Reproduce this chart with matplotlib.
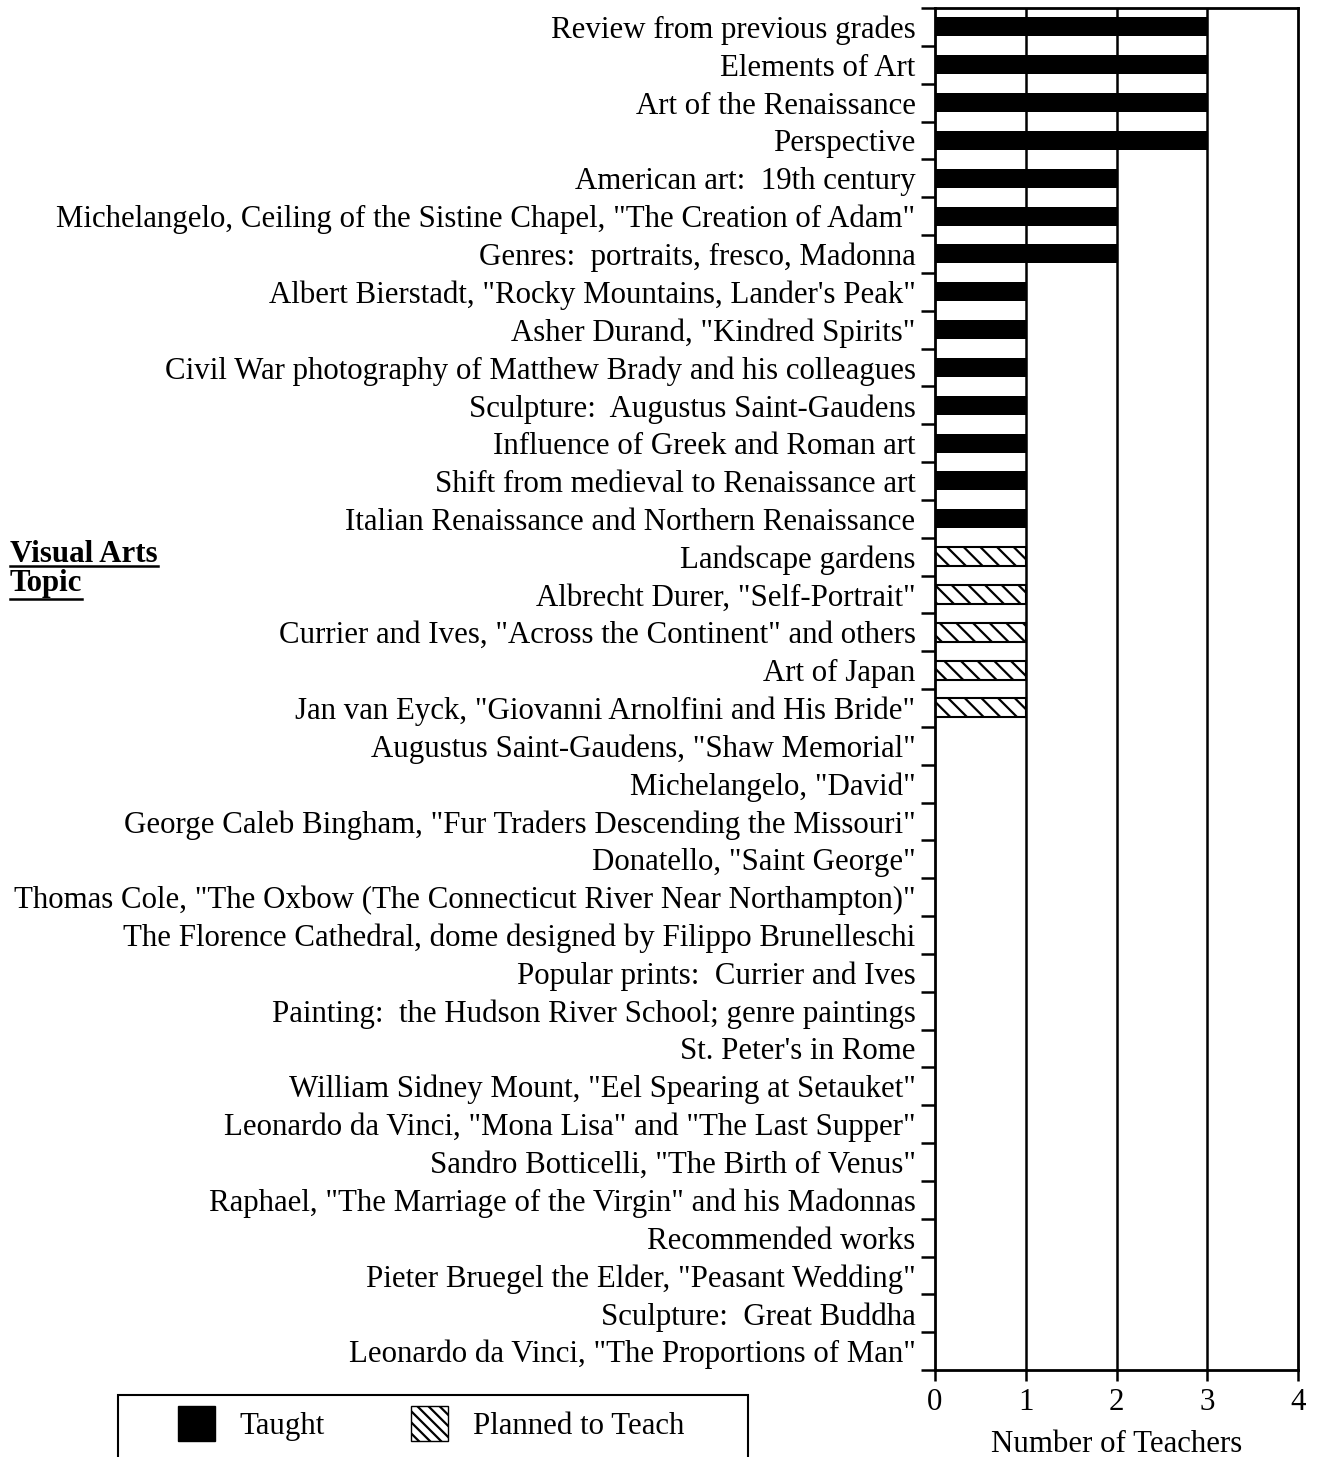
import matplotlib
matplotlib.use('Agg')
import matplotlib.pyplot as plt
from matplotlib.patches import Patch, Rectangle
from matplotlib.lines import Line2D
import numpy as np

plt.rcParams['font.family'] = ['Liberation Serif', 'DejaVu Serif']
plt.rcParams['hatch.linewidth'] = 1.6

# Topics, top to bottom
topics = [
    'Review from previous grades',
    'Elements of Art',
    'Art of the Renaissance',
    'Perspective',
    'American art:  19th century',
    'Michelangelo, Ceiling of the Sistine Chapel, "The Creation of Adam"',
    'Genres:  portraits, fresco, Madonna',
    'Albert Bierstadt, "Rocky Mountains, Lander\'s Peak"',
    'Asher Durand, "Kindred Spirits"',
    'Civil War photography of Matthew Brady and his colleagues',
    'Sculpture:  Augustus Saint-Gaudens',
    'Influence of Greek and Roman art',
    'Shift from medieval to Renaissance art',
    'Italian Renaissance and Northern Renaissance',
    'Landscape gardens',
    'Albrecht Durer, "Self-Portrait"',
    'Currier and Ives, "Across the Continent" and others',
    'Art of Japan',
    'Jan van Eyck, "Giovanni Arnolfini and His Bride"',
    'Augustus Saint-Gaudens, "Shaw Memorial"',
    'Michelangelo, "David"',
    'George Caleb Bingham, "Fur Traders Descending the Missouri"',
    'Donatello, "Saint George"',
    'Thomas Cole, "The Oxbow (The Connecticut River Near Northampton)"',
    'The Florence Cathedral, dome designed by Filippo Brunelleschi',
    'Popular prints:  Currier and Ives',
    'Painting:  the Hudson River School; genre paintings',
    'St. Peter\'s in Rome',
    'William Sidney Mount, "Eel Spearing at Setauket"',
    'Leonardo da Vinci, "Mona Lisa" and "The Last Supper"',
    'Sandro Botticelli, "The Birth of Venus"',
    'Raphael, "The Marriage of the Virgin" and his Madonnas',
    'Recommended works',
    'Pieter Bruegel the Elder, "Peasant Wedding"',
    'Sculpture:  Great Buddha',
    'Leonardo da Vinci, "The Proportions of Man"',
]
taught = [3, 3, 3, 3, 2, 2, 2, 1, 1, 1, 1, 1, 1, 1,
          0, 0, 0, 0, 0, 0, 0, 0, 0, 0, 0, 0, 0, 0, 0, 0, 0, 0, 0, 0, 0, 0]
planned = [0, 0, 0, 0, 0, 0, 0, 0, 0, 0, 0, 0, 0, 0,
           1, 1, 1, 1, 1, 0, 0, 0, 0, 0, 0, 0, 0, 0, 0, 0, 0, 0, 0, 0, 0, 0]
xticks = [0, 1, 2, 3, 4]

fs = 22.2
W, H = 1318, 1457
fig = plt.figure(figsize=(W / 100, H / 100), dpi=100)
ax = fig.add_axes([935 / W, 1 - 1370 / H, (1298 - 935) / W, (1370 - 8) / H])

n = len(topics)
y = np.arange(n)
for xv in [1, 2, 3]:
    ax.axvline(xv, color='black', lw=1.8, zorder=1)
ax.barh(y, taught, height=0.5, color='black', zorder=2)
ax.barh(y, planned, left=taught, height=0.5, color='white', edgecolor='black',
        hatch='\\\\', lw=1.5, zorder=2)

ax.set_ylim(n - 0.5, -0.5)
ax.set_xlim(0, 4)
ax.set_yticks(y)
ax.set_yticklabels(topics, fontsize=fs)
ax.tick_params(axis='y', length=0, pad=14)
ax.set_yticks(np.arange(-0.5, n, 1.0), minor=True)
ax.tick_params(axis='y', which='minor', length=10, width=1.8, direction='out')
ax.set_xticks(xticks)
ax.set_xticklabels([str(v) for v in xticks], fontsize=fs)
ax.tick_params(axis='x', length=8, width=1.8, pad=5)
ax.set_xlabel('Number of Teachers', fontsize=fs, labelpad=9)
for s in ax.spines.values():
    s.set_linewidth(2)

# Axis title with underline
renderer = fig.canvas.get_renderer()
for line, base, under in [('Visual Arts', 562, 566), ('Topic', 591, 599)]:
    t = fig.text(10 / W, 1 - base / H, line, fontsize=fs, fontweight='bold',
                 ha='left', va='baseline')
    bb = t.get_window_extent(renderer)
    fig.add_artist(Line2D([bb.x0 / W, bb.x1 / W], [1 - under / H, 1 - under / H],
                          color='black', lw=1.8))

handles = [Patch(facecolor='black', edgecolor='black', label='Taught'),
           Patch(facecolor='white', edgecolor='black', hatch='\\\\\\', label='Planned to Teach')]
leg = fig.legend(handles=handles, loc='upper left', bbox_to_anchor=(178 / W, 1 - 1406 / H),
                 ncol=2, fontsize=fs, frameon=False,
                 handlelength=1.2, handleheight=1.35, handletextpad=0.8, columnspacing=2.8,
                 borderpad=0, borderaxespad=0)
fig.add_artist(Rectangle((118 / W, -0.02), (748 - 118) / W, 0.02 + (1457 - 1395) / H,
                         transform=fig.transFigure, facecolor='none', edgecolor='black',
                         lw=1.5))

fig.savefig('out.png', dpi=100)
